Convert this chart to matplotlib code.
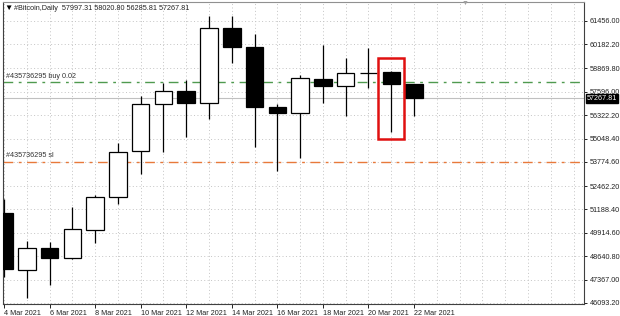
"""Bitcoin daily candlestick chart in MT4 style."""
import matplotlib
matplotlib.use("Agg")
import matplotlib.pyplot as plt
from matplotlib.patches import Rectangle
import numpy as np

# data
dates = ["4 Mar 2021", "5 Mar 2021", "6 Mar 2021", "7 Mar 2021", "8 Mar 2021",
         "9 Mar 2021", "10 Mar 2021", "11 Mar 2021", "12 Mar 2021", "13 Mar 2021",
         "14 Mar 2021", "15 Mar 2021", "16 Mar 2021", "17 Mar 2021", "18 Mar 2021",
         "19 Mar 2021", "20 Mar 2021", "21 Mar 2021", "22 Mar 2021"]
opens = [50996, 47891, 49089, 48545, 50070, 51868, 54374, 56934, 57642, 56989,
         61074, 60039, 56771, 56444, 58296, 57915, 58623, 58677, 57997.31]
highs = [51759, 49471, 49416, 51323, 51977, 54810, 57370, 58078, 58242, 61728,
         61728, 60748, 56934, 58514, 60148, 59440, 59985, 58732, 58020.80]
lows = [47510, 46366, 47074, 48490, 49362, 51486, 53121, 54319, 55136, 56117,
        59168, 54592, 53284, 53992, 56989, 56280, 57806, 55409, 56285.81]
closes = [47945, 49089, 48545, 50124, 51868, 54319, 56934, 57642, 56989, 61074,
          60039, 56771, 56444, 58351, 57915, 58623, 58640, 58024, 57267.81]

y_ticks = [61456.00, 60182.20, 58869.80, 57596.00, 56322.20, 55048.40, 53774.60,
           52462.20, 51188.40, 49914.60, 48640.80, 47367.00, 46093.20]
x_tick_labels = dates[::2]

buy_price = 58140
sl_price = 53800
bid_price = closes[-1]
order_id = "#435736295"
highlight_idx = 17

FONT = ["Liberation Sans", "DejaVu Sans"]
FS = 5.2

# .....................................................................................
fig = plt.figure(figsize=(6.2, 3.16), dpi=100)
W, H = 620, 316
left, right, top, bottom = 3, 584, 2, 304
ax = fig.add_axes([left / W, 1 - bottom / H, (right - left) / W, (bottom - top) / H])

px = 54.478  # price per pixel
ax.set_ylim(46093.2 - (bottom - 303) * px, 46093.2 + (303 - top) * px)
ax.set_xlim(-0.044, 25.46)

x = np.arange(len(dates))
o, h, l, c = map(np.array, (opens, highs, lows, closes))
up = c >= o

# grid
for yt in y_ticks:
    ax.axhline(yt, color="#c4c4c4", lw=0.7, ls=(0, (1, 2.5)), zorder=0)
for xi in range(26):
    ax.axvline(xi, color="#c4c4c4", lw=0.7, ls=(0, (1, 2.5)), zorder=0)

# bid line
ax.axhline(bid_price, color="#c0c0c0", lw=0.8, zorder=1)

# order lines
ax.axhline(buy_price, color="#4f9a4f", lw=1.0, ls=(0, (7, 4, 2, 4)), zorder=1)
ax.axhline(sl_price, color="#e8793a", lw=1.0, ls=(0, (7, 4, 2, 4)), zorder=1)
ax.annotate(f"{order_id} buy 0.02", (0.006, buy_price), xycoords=("axes fraction", "data"),
            xytext=(0, 1.5), textcoords="offset points", fontsize=FS, family=FONT,
            color="#333333", va="bottom", ha="left")
ax.annotate(f"{order_id} sl", (0.006, sl_price), xycoords=("axes fraction", "data"),
            xytext=(0, 1.5), textcoords="offset points", fontsize=FS, family=FONT,
            color="#333333", va="bottom", ha="left")

# candles
ax.vlines(x, l, h, color="black", lw=0.9, zorder=2)
body_lo = np.minimum(o, c)
body_hi = np.maximum(o, c)
ax.bar(x, body_hi - body_lo, bottom=body_lo, width=0.77,
       color=np.where(up, "white", "black"), edgecolor="black", lw=0.9, zorder=3)

# highlight box
i = highlight_idx
ax.add_patch(Rectangle((i - 0.57, lows[i] - 380), 1.14, highs[i] + 700 - (lows[i] - 380),
                       fill=False, edgecolor="#e01010", lw=1.8, zorder=4))

# axes styling
for s in ax.spines.values():
    s.set_color("#404040")
    s.set_linewidth(0.8)
ax.spines["top"].set_color("#909090")
ax.yaxis.tick_right()
ax.set_yticks(y_ticks)
ax.set_yticklabels([f"{v:.2f}" for v in y_ticks], fontsize=FS, family=FONT, color="#222222")
ax.tick_params(axis="y", direction="out", length=2.5, width=0.7, pad=1.5, colors="#222222")
ax.set_xticks(x[::2])
ax.set_xticklabels(x_tick_labels, fontsize=FS, family=FONT, color="#222222", ha="left")
ax.tick_params(axis="x", direction="out", length=3, width=0.7, pad=1.5, colors="#222222")

# current price tag
ax.annotate(f"{bid_price:.2f}", (1.0, bid_price), xycoords=("axes fraction", "data"),
            xytext=(2, -0.5), textcoords="offset points", fontsize=FS, family=FONT,
            color="white", va="center", ha="left", annotation_clip=False, zorder=10,
            bbox=dict(boxstyle="square,pad=0.12", fc="black", ec="black"))

# header
fig.text(4 / W, 1 - 8 / H, "\u25bc", fontsize=6, family=FONT, va="center", ha="left")
fig.text(14 / W, 1 - 8 / H, "#Bitcoin,Daily  57997.31 58020.80 56285.81 57267.81",
         fontsize=FS, family=FONT, va="center", ha="left", color="#222222")
# chart shift marker
fig.text(465 / W, 1 - 3 / H, "\u25bc", fontsize=5, family=FONT, va="center",
         ha="center", color="#a0a0a0")

fig.savefig("out.png", dpi=100, facecolor="white")
